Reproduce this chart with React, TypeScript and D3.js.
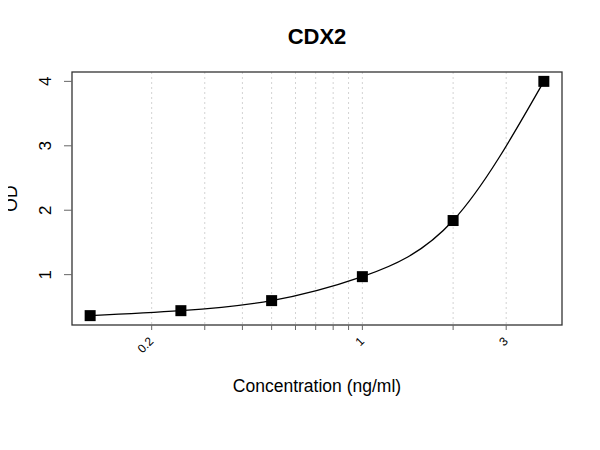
import React from "react";
import { scaleLog, scaleLinear, line as d3_line, curveNatural, symbol, symbolSquare } from "d3";

// standard curve readings
const concentrations = [0.125, 0.25, 0.5, 1, 2, 4];
const odValues = [0.364, 0.441, 0.597, 0.969, 1.84, 4.0];

const xTickLabels = [0.2, 1, 3];
const xMinorTicks = [0.2, 0.3, 0.4, 0.5, 0.6, 0.7, 0.8, 0.9, 1, 2, 3];
const yTicks = [1, 2, 3, 4];

const width = 600;
const height = 450;
const margin = { top: 72, right: 38, bottom: 125, left: 72 };

const App: React.FC = () => {
    const plotW = width - margin.left - margin.right;
    const plotH = height - margin.top - margin.bottom;

    // R style 4% padding of the data range
    const lx0 = Math.log10(concentrations[0]);
    const lx1 = Math.log10(concentrations[concentrations.length - 1]);
    const padX = (lx1 - lx0) * 0.04;
    const yMin = Math.min(...odValues);
    const yMax = Math.max(...odValues);
    const padY = (yMax - yMin) * 0.04;

    const xScale = scaleLog()
        .domain([Math.pow(10, lx0 - padX), Math.pow(10, lx1 + padX)])
        .range([margin.left, margin.left + plotW]);

    const yScale = scaleLinear()
        .domain([yMin - padY, yMax + padY])
        .range([margin.top + plotH, margin.top]);

    const pts = concentrations.map((c, i) => ({ c, v: odValues[i] }));

    const line = d3_line<(typeof pts)[number]>()
        .x((d) => xScale(d.c))
        .y((d) => yScale(d.v))
        .curve(curveNatural);

    const square = symbol().type(symbolSquare).size(121)() ?? "";
    const bottom = margin.top + plotH;

    return (
        <svg width={width} height={height} style={{ display: "block", margin: -8 }} fontFamily="Liberation Sans, Arial, sans-serif">
            <rect x={0} y={0} width={width} height={height} fill="#fff" />

            {/* Grid lines */}
            {xMinorTicks.map((t, i) => (
                <line
                    key={i}
                    x1={xScale(t)}
                    x2={xScale(t)}
                    y1={margin.top}
                    y2={bottom}
                    stroke="#d3d3d3"
                    strokeDasharray="2,3"
                    strokeWidth={1}
                />
            ))}

            {/* Curve */}
            <path d={line(pts) ?? ""} fill="none" stroke="#000" strokeWidth={1.3} />

            {/* Points */}
            {pts.map((d, i) => (
                <path key={i} d={square} transform={`translate(${xScale(d.c)},${yScale(d.v)})`} fill="#000" />
            ))}

            {/* Box */}
            <rect x={margin.left} y={margin.top} width={plotW} height={plotH} fill="none" stroke="#333" strokeWidth={1.3} />

            {/* Y axis */}
            {yTicks.map((t, i) => (
                <g key={i} transform={`translate(0,${yScale(t)})`}>
                    <line x1={margin.left - 8} x2={margin.left} stroke="#666" />
                    <text
                        transform={`translate(${margin.left - 27},0) rotate(-90)`}
                        textAnchor="middle"
                        dy="0.35em"
                        fontSize={17}
                    >
                        {t}
                    </text>
                </g>
            ))}

            {/* X axis */}
            {xMinorTicks.map((t, i) => (
                <line key={i} x1={xScale(t)} x2={xScale(t)} y1={bottom} y2={bottom + 5} stroke="#666" />
            ))}
            {xTickLabels.map((t, i) => (
                <text
                    key={i}
                    transform={`translate(${xScale(t) + 2.5},${bottom + 17}) rotate(-45)`}
                    textAnchor="end"
                    fontSize={12}
                >
                    {t}
                </text>
            ))}

            {/* Titles */}
            <text x={margin.left + plotW / 2} y={44} textAnchor="middle" fontSize={22} fontWeight="bold">
                CDX2
            </text>
            <text x={margin.left + plotW / 2} y={392} textAnchor="middle" fontSize={17.5}>
                Concentration (ng/ml)
            </text>
            <text transform={`translate(17,${margin.top + plotH / 2}) rotate(-90)`} textAnchor="middle" fontSize={17.5}>
                OD
            </text>
        </svg>
    );
};

export default App;
